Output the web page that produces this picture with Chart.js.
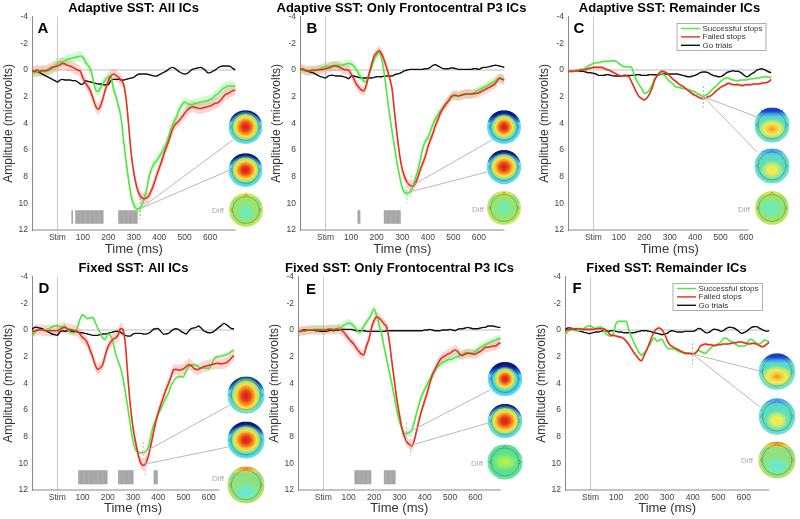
<!DOCTYPE html>
<html>
<head>
<meta charset="utf-8">
<title>SST ERP panels</title>
<script src="https://cdn.jsdelivr.net/npm/chart.js@4"></script>
<style>
  html, body { margin: 0; padding: 0; background: #fff; }
  #page { position: relative; width: 800px; height: 519px; overflow: hidden; }
  canvas { position: absolute; filter: blur(0.4px); }
</style>
</head>
<body>
<div id="page"></div>
<script>
// time base, ms, one value every 10 ms from -100 to 700
const times = [];
for (let t = -100; t <= 700; t += 10) times.push(t);

const xTickValues = [0, 100, 200, 300, 400, 500, 600];
const seriesLabels = ['Successful stops', 'Failed stops', 'Go trials'];

const adaptiveAllGreen = [.2,.2,.15,.1,.1,.1,.1,0,-.1,-.3, -.5,-.6,-.6,-.7,-.8,-.85,-.9,-.95,-1,-1.05, -.95,-.6,-.35,-.05,.7,1.5,1.6,1.3,1,.7, .5,.5,1.4,2,2.7,3.6,5.3,6.9,8.3,9.5, 10.1,10.4,10.4,10.2,9.7,9,8,7.4,7,6.8, 6.5,6.2,5.8,5.4,4.8,4.2,3.8,3.4,2.9,2.6, 2.4,2.5,2.6,2.6,2.5,2.5,2.4,2.4,2.3,2.3, 2.2,2.1,1.9,1.8,1.6,1.4,1.3,1.2,1.2,1.2,1.2];
const adaptiveAllRed = [.1,.1,0,.1,.05,.05,0,-.1,-.2,-.25, -.3,-.4,-.5,-.45,-.35,-.3,-.2,-.1,0,.1, .6,.95,1.25,1.6,2.15,2.7,2.95,2.65,2.05,1.35, .8,.45,.3,.4,.55,.75,1.05,2.2,4.2,6.3, 7.7,8.65,9.25,9.55,9.65,9.6,9.4,9,8.5,7.9, 7.35,6.8,6.2,5.7,5.15,4.55,4.15,3.95,3.75,3.5, 3.25,3,2.85,2.75,2.8,2.85,2.9,2.85,2.8,2.75, 2.7,2.6,2.5,2.45,2.3,2.05,1.85,1.75,1.65,1.55,1.5];
const adaptiveAllBlack = [.1,.1,.15,.2,.3,.4,.5,.6,.7,.8, .9,.75,.7,.75,.75,.75,.8,.8,.9,1.05, 1.05,.8,.85,.9,.95,1,1.05,1.05,1.1,1.1, 1.1,.8,.7,.7,.7,.75,.75,.7,.65,.6, .55,.4,.3,.3,.3,.3,.35,.4,.45,.45, .35,.25,.15,.05,-.1,-.2,-.15,0,.15,.25, .3,.25,.1,-.05,-.1,-.15,-.2,-.15,0,.2, .2,.1,0,-.15,-.25,-.3,-.3,-.3,-.25,-.1,0];

const adaptiveP3Green = [-.1,0,.05,.05,.05,.05,.05,-.05,-.1,-.2, -.25,-.3,-.3,-.35,-.35,-.35,-.35,-.4,-.45,-.5, -.45,-.3,-.05,.3,.55,.85,.85,.3,-.2,-.8, -1.15,-1.4,-.8,.3,1.85,3.3,4.6,5.8,7,8, 8.85,9.2,9.25,9.15,8.8,8.2,7.6,6.8,5.9,5.35, 5.1,4.6,4.05,3.65,3.35,3.05,2.85,2.6,2.3,2.05, 1.95,1.9,1.95,1.85,1.8,1.8,1.8,1.8,1.8,1.6, 1.5,1.4,1.3,1.2,1.1,1,.85,.7,.6,.65,.7];
const adaptiveP3Red = [-.05,-.1,0,.05,.05,0,0,0,-.05,-.05, -.1,-.15,-.2,-.3,-.3,-.25,-.15,-.05,0,0, .3,.65,1.05,1.3,1.5,1.55,1.1,.3,-.4,-1.05, -1.3,-1.45,-1.2,-.7,-.1,.55,1.4,3.2,4.9,6.4, 7.45,8.05,8.45,8.65,8.7,8.55,8.1,7.5,7,6.5, 5.8,5.25,4.75,4.15,3.7,3.2,2.85,2.55,2.35,2.05, 1.9,1.9,1.95,1.9,1.85,1.8,1.8,1.8,1.75,1.75, 1.7,1.6,1.5,1.4,1.3,1.2,1.1,.85,.6,.7,.75];
const adaptiveP3Black = [-.1,0,.05,.1,.15,.2,.3,.4,.5,.55, .6,.45,.4,.4,.45,.45,.45,.5,.55,.65, .45,.45,.5,.55,.6,.6,.6,.6,.6,.55, .5,.5,.5,.45,.45,.45,.45,.35,.3,.25, .15,.05,0,-.05,-.05,-.05,-.05,-.05,-.05,-.1, -.1,-.2,-.35,-.4,-.3,-.2,-.1,-.1,-.1,-.15, -.15,-.1,-.05,-.05,-.05,-.05,-.05,-.05,-.1,-.1, -.05,-.15,-.2,-.2,-.25,-.3,-.35,-.35,-.3,-.25,-.2];

const adaptiveRestGreen = [.05,.05,.05,.05,0,-.05,-.05,-.15,-.3,-.4, -.5,-.55,-.55,-.6,-.65,-.65,-.65,-.7,-.7,-.65, -.5,-.35,-.25,-.25,-.25,-.2,.35,.8,1.1,1.4, 1.75,1.7,1.5,1.15,.65,.45,.3,.3,.4,.65, .85,1,1.2,1.3,1.3,1.4,1.4,1.45,1.5,1.6, 1.65,1.8,1.85,2,1.9,1.8,1.6,1.4,1.25,1.05, .85,.7,.6,.6,.7,.75,.8,.8,.75,.75, .75,.7,.65,.65,.6,.6,.55,.5,.5,.55,.55];
const adaptiveRestRed = [.1,.1,.1,.05,.05,0,0,-.05,-.1,-.15, -.2,-.2,-.2,-.2,-.15,-.05,0,.1,.2,.3, .4,.45,.45,.45,.5,.9,1.3,1.7,2,2.15, 2.25,2.1,1.8,1.4,.8,.45,.2,.1,.15,.25, .45,.65,.8,.95,1.1,1.2,1.35,1.5,1.65,1.8, 1.9,2,2.1,2.15,2.1,2,1.95,1.8,1.6,1.45, 1.3,1.2,1.1,1,1.05,1.1,1.1,1.1,1.15,1.15, 1.1,1.1,1.1,1.05,1.05,1.05,1,.95,.95,.85,.7];
const adaptiveRestBlack = [.05,.05,.05,.05,.05,.1,.1,.15,.2,.2, .25,.3,.4,.4,.4,.35,.35,.4,.45,.45, .45,.45,.4,.4,.4,.4,.4,.35,.35,.4, .4,.4,.35,.35,.35,.35,.35,.3,.3,.3, .3,.3,.3,.3,.35,.4,.45,.5,.5,.45, .4,.3,.2,.15,.15,.2,.3,.4,.45,.5, .5,.4,.25,.15,.1,.05,.1,.1,.2,.35, .5,.45,.3,.2,.05,-.05,-.1,-.05,.05,.15,.2];

const fixedAllGreen = [.5,.2,.05,0,0,0,-.05,-.1,-.25,-.3, -.35,-.25,-.25,-.3,-.1,.15,.2,.2,-.2,-.8, -1.15,-1,-.85,-.9,-.95,-.6,-.15,.2,.6,.7, .3,.4,.85,1.7,2.3,2.8,3.6,4.7,5.9,7.2, 8.3,9,9.15,9.2,9.2,9.1,8.85,8,7.2,6.75, 6.3,5.95,5.5,5.1,4.75,4.2,3.85,3.6,3.5,3.5, 3.5,3.1,2.75,2.65,2.6,2.65,2.75,2.85,2.85,2.85, 2.9,2.6,2.2,2,2,1.95,1.9,1.85,1.75,1.6,1.5];
const fixedAllRed = [.1,.1,0,0,0,.05,.05,.05,.05,.05, .05,-.05,-.15,-.2,-.1,-.05,0,.05,.1,.3, .55,.7,1,1.5,2,2.6,2.95,2.85,2.6,1.9, 1.3,.95,.7,.6,.4,-.1,-.05,1.1,3.6,5.75, 7.3,8.4,9.3,9.95,10.15,10,9.5,8.7,7.8,6.9, 6.2,5.6,5.05,4.5,4.05,3.55,3,2.95,3,3, 2.9,2.75,2.6,2.65,2.85,2.95,2.95,2.85,2.75,2.7, 2.65,2.6,2.55,2.5,2.5,2.55,2.5,2.45,2.3,2.1,1.9];
const fixedAllBlack = [-.05,-.2,-.2,-.15,-.1,0,.1,.2,.3,.35, .4,.15,.05,.1,.05,.05,.1,.1,.15,.2, .2,.25,.3,.35,.4,.4,.4,.35,.3,.3, .25,.2,.15,.1,.1,.15,.3,.4,.45,.45, .3,.25,.25,.25,.3,.3,.25,.15,-.05,-.1, -.1,.1,.3,.3,.25,.1,-.05,-.1,-.05,.1, .2,.3,.1,-.1,-.15,-.2,-.3,-.15,.05,.15, .2,.2,.1,-.05,-.2,-.35,-.5,-.4,-.25,-.1,-.1];

const fixedP3Green = [.05,.05,.05,.05,0,0,-.05,-.05,-.05,-.05, -.05,-.05,-.05,-.1,-.1,-.1,-.15,-.2,-.35,-.45, -.55,-.45,-.3,-.05,.15,.1,-.3,-.6,-.85,-1.2, -1.6,-1.1,-.4,.3,1.3,2.2,3.1,4,5,6, 6.8,7.4,7.75,7.75,7.7,7.5,6.8,6.1,5.4,4.85, 4.45,4.05,3.7,3.3,3,2.75,2.6,2.45,2.35,2.25, 2.2,2.15,2.05,2,1.9,1.8,1.7,1.7,1.75,1.7, 1.6,1.45,1.3,1.2,1.1,1,.9,.8,.75,.65,.6];
const fixedP3Red = [.1,.1,.05,.05,0,0,0,0,0,0, 0,0,-.05,-.05,0,-.05,-.05,0,.15,.4, .65,.85,1.05,1.35,1.6,1.8,1.85,1.2,.7,-.15, -.7,-1,-.9,-.7,-.45,-.25,.8,2.3,3.75,5.2, 6.3,7.35,8,8.4,8.6,8.7,8.2,7.4,6.6,5.9, 5.3,4.7,4,3.4,3,2.6,2.25,2.05,1.95,1.8, 1.75,1.6,1.5,1.6,1.85,1.9,1.8,1.75,1.75,1.8, 1.8,1.7,1.6,1.45,1.3,1.3,1.25,1.2,1.2,1.05,.95];
const fixedP3Black = [.05,.05,0,0,0,0,0,.05,.05,.1, .1,.1,.05,0,.05,0,0,-.05,-.05,-.05, -.05,-.05,0,.05,.05,.05,.05,.1,.1,.1, .1,.1,.1,.1,.1,.05,.05,.05,.05,.05, .05,.05,.05,.05,.05,.05,.05,.05,.05,.05, 0,0,-.05,0,.05,.05,.05,0,0,0, -.05,0,.05,-.05,-.1,-.1,-.15,-.2,-.15,-.1, -.1,-.1,-.15,-.2,-.2,-.3,-.3,-.3,-.25,-.2,-.2];

const fixedRestGreen = [.35,.15,-.05,0,.05,.05,0,-.05,-.2,-.3, -.3,-.2,-.1,-.2,-.25,-.05,.3,.4,.45,.2, -.5,-.65,-.65,-.65,-.65,0,.5,.95,1.35,1.7, 1.9,1.7,1.45,1.15,.8,.6,.85,.75,.7,1.05, 1.35,1.4,1.4,1.45,1.55,1.65,1.7,1.7,1.75,1.8, 1.8,1.7,1.55,1.6,1.7,1.75,1.55,1.35,1.2,1.15, 1.05,.9,.65,.6,.75,.85,.95,1.1,1.2,1.2, 1.2,1.15,.75,.7,.85,1,1.05,.95,.75,.8,.9];
const fixedRestRed = [.05,0,-.05,-.1,-.1,-.1,-.1,-.05,-.05,-.05, -.05,-.05,-.1,-.1,-.1,-.1,0,.2,.4,.4, .45,.5,.55,.65,.85,1.1,1.4,1.7,1.95,2.2, 2.3,1.9,1.5,1,.5,.1,-.1,-.15,0,.3, .8,1.1,1.25,1.35,1.45,1.55,1.65,1.75,1.75,1.75, 1.8,1.75,1.5,1.2,1.1,1.05,1.1,1.1,1.15,1.15, 1.1,1.1,1.05,1.05,1.05,1,.95,.95,.9,.9, .95,1,1.05,1,1,1.05,1.15,1.25,1.2,1.05,.9];
const fixedRestBlack = [0,-.15,-.15,-.1,-.05,.05,.1,.15,.2,.25, .25,.2,.15,.15,.1,.05,.05,.1,.05,.05, .1,.15,.15,.2,.2,.2,.2,.2,.15,.1, .05,.05,.05,.1,.15,.2,.25,.3,.35,.3, .25,.1,.05,.1,.15,.15,.15,.1,.1,.1, .1,.05,-.1,-.1,.05,.2,.2,.1,-.05,-.05, 0,.1,.05,-.1,-.2,-.2,-.15,-.05,.1,.25, .2,.1,-.05,-.2,-.25,-.25,-.15,-.05,.05,.1,.05];

// significant stretches, ms
const adaptiveAllSig = [[58, 61], [73, 178], [242, 314]];
const adaptiveP3Sig = [[128, 137], [231, 292]];
const fixedAllSig = [[86, 199], [244, 299], [385, 399]];
const fixedP3Sig = [[126, 189], [242, 284]];

const GREEN = '#4fe83f', RED = '#e8301f', BLACK = '#111';
const GREEN_BAND = 'rgba(110,235,120,0.28)', RED_BAND = 'rgba(240,110,100,0.28)';

// scalp map colour sets
const strong = { base: '#3cc6ea', cap: '#0a1488', capMid: '#1f5fe6', capH: .8, rim: '#66e4f2', hot: [['#c8200f', 0], ['#e8401a', .25], ['#f98a20', .42], ['#f8e048', .6], ['#90e880', .78], ['rgba(70,210,225,0)', 1]] };
const midMap = { base: '#58dcc8', cap: '#1a3cd8', capMid: '#40a0ea', capH: .55, rim: '#70e4e0', hot: [['#f2902c', 0], ['#f6c43c', .25], ['#f0ec58', .5], ['#a8e880', .75], ['rgba(100,220,180,0)', 1]] };
const softMap = { base: '#5cdcc0', cap: '#4aa8ee', capMid: '#5cc8ea', capH: .45, rim: '#70e4e0', hot: [['#f4e838', 0], ['#eef058', .3], ['#a8e880', .65], ['rgba(100,220,190,0)', 1]] };
const diffMap = { base: '#98e470', cap: '#d8e448', capMid: '#b8e450', capH: .35, rim: '#d4e850', hot: [['#66ecc0', 0], ['#78e8a8', .5], ['rgba(150,225,110,0)', 1]] };
const diffWarm = { base: '#90e080', cap: '#f2a030', capMid: '#e8d848', capH: .35, rim: '#c4e458', hot: [['#5ce8e0', 0], ['#78e8b0', .5], ['rgba(150,225,110,0)', 1]] };
const diffCool = { base: '#58e098', cap: '#66dc9c', capMid: '#60dc98', capH: .3, rim: '#74e4a8', hot: [['#c4f040', 0], ['#90ec68', .5], ['rgba(90,225,150,0)', 1]] };

// heads: page x, page y, radius, colours, hot spot dx, dy, radius, width/height stretch
const panels = [
  { title: 'Adaptive SST: All ICs', letter: 'A', left: 0, top: 0, h: 260, w: 203.6, axisEnd: 700, series: [adaptiveAllGreen, adaptiveAllRed, adaptiveAllBlack], band: [.38, .42], sig: adaptiveAllSig, sigY: [10.55, 11.5],
    letterAt: [43, 29], diffAt: [218, 211], links: [[325, 10.4, 233, 140], [325, 10.4, 230, 170]],
    heads: [[245.5, 127, 16.8, strong, 0, 0, 16, 1], [245.5, 170, 16.8, strong, 0, 0, 15, 1.1], [246, 210, 16.8, diffMap, 0, 2, 12, .9]] },
  { title: 'Adaptive SST: Only Frontocentral P3 ICs', letter: 'B', left: 268, top: 0, h: 260, w: 204.5, axisEnd: 700, series: [adaptiveP3Green, adaptiveP3Red, adaptiveP3Black], band: [.32, .36], sig: adaptiveP3Sig, sigY: [10.55, 11.5],
    letterAt: [312, 29], diffAt: [478, 210], links: [[335, 8.7, 492, 140], [318, 9.2, 487, 172]],
    heads: [[504, 127, 16.8, strong, 0, 0, 14, 1], [504, 167, 17, strong, 0, 0, 15, 1.1], [504, 208, 16.8, diffMap, 0, 0, 10, 1]] },
  { title: 'Adaptive SST: Remainder ICs', letter: 'C', left: 536, top: 0, h: 260, w: 203.5, axisEnd: 610, series: [adaptiveRestGreen, adaptiveRestRed, adaptiveRestBlack], band: [.07, .1], sig: [], sigY: [10.55, 11.5],
    letterAt: [579, 29], diffAt: [744, 210], links: [[432, 2, 757, 117], [432, 2, 757, 152]], legendAt: [677, 23.5, 89, 27],
    heads: [[772, 125, 17.5, midMap, 0, 4, 11, 1.4], [772, 166, 17.5, softMap, 0, 4, 11, 1.2], [772, 208, 16.8, diffMap, -1, 0, 12, 1.3]] },
  { title: 'Fixed SST: All ICs', letter: 'D', left: 0, top: 260, h: 259, w: 202, axisEnd: 642, series: [fixedAllGreen, fixedAllRed, fixedAllBlack], band: [.1, .42], sig: fixedAllSig, sigY: [10.55, 11.55],
    letterAt: [44, 289], diffAt: [218, 479], links: [[340, 9.2, 230, 405], [349, 10.05, 228, 447]],
    heads: [[246, 395, 18.5, strong, 0, 1, 20, .85], [246, 440, 18.5, strong, 0, 0, 16, 1.1], [246, 485, 18.5, diffWarm, 0, 7, 12, 1.4]] },
  { title: 'Fixed SST: Only Frontocentral P3 ICs', letter: 'E', left: 266, top: 260, h: 259, w: 202.7, axisEnd: 700, series: [fixedP3Green, fixedP3Red, fixedP3Black], band: [.3, .36], sig: fixedP3Sig, sigY: [10.55, 11.55],
    letterAt: [311, 290], diffAt: [477, 464], links: [[328, 7.75, 490, 390], [345, 8.65, 488, 423]],
    heads: [[505, 379, 17, strong, 0, 0, 13, 1], [505, 421, 17, strong, 0, 0, 16, 1.1], [505, 462, 17.5, diffCool, 0, 0, 11, 1.4]] },
  { title: 'Fixed SST: Remainder ICs', letter: 'F', left: 533, top: 260, h: 259, w: 204.4, axisEnd: 700, series: [fixedRestGreen, fixedRestRed, fixedRestBlack], band: [.07, .1], sig: [], sigY: [10.55, 11.55],
    letterAt: [577, 289], diffAt: [747, 461], links: [[399, 1.8, 760, 371], [399, 1.8, 760, 407]], legendAt: [673, 283.5, 89.5, 27],
    heads: [[777, 371.5, 18.2, midMap, 0, 5, 12, 1.5], [777, 416.5, 18.2, softMap, 0, 4, 11, 1.2], [777, 460, 18.5, diffWarm, 0, 6, 12, 1.4]] }
];

const CANVAS_W = 267, PLOT_LEFT = 32, PLOT_BOTTOM = 230;
const FONT = '"Liberation Sans", Arial, sans-serif';

function drawHead(ctx, h) {
  const [x, y, r, map, dx, dy, hr, stretch] = h;
  ctx.save();
  ctx.beginPath();
  ctx.arc(x, y, r, 0, Math.PI * 2);
  ctx.clip();
  ctx.fillStyle = map.base;
  ctx.fillRect(x - r, y - r, r * 2, r * 2);

  const cap = ctx.createLinearGradient(0, y - r, 0, y - r + r * map.capH);
  cap.addColorStop(0, map.cap);
  cap.addColorStop(0.35, map.cap);
  cap.addColorStop(0.7, map.capMid);
  cap.addColorStop(1, map.capMid + '00');
  ctx.fillStyle = cap;
  ctx.fillRect(x - r, y - r, r * 2, r * map.capH);

  ctx.save();
  ctx.translate(x + dx, y + dy);
  ctx.scale(stretch, 1);
  const hot = ctx.createRadialGradient(0, 0, 0, 0, 0, hr);
  map.hot.forEach(s => hot.addColorStop(s[1], s[0]));
  ctx.fillStyle = hot;
  ctx.fillRect(-r * 3, -r * 3, r * 6, r * 6);
  ctx.restore();

  const rim = ctx.createRadialGradient(x, y, r * 0.8, x, y, r);
  rim.addColorStop(0, map.rim + '00');
  rim.addColorStop(1, map.rim);
  ctx.fillStyle = rim;
  ctx.beginPath();
  ctx.rect(x - r, y - r * 0.3, r * 2, r * 1.3);
  ctx.fill();
  ctx.restore();

  // head outline, nose and ears
  ctx.strokeStyle = 'rgba(60,70,70,0.5)';
  ctx.lineWidth = 0.7;
  ctx.beginPath();
  ctx.arc(x, y, r * 0.8, 0, Math.PI * 2);
  ctx.moveTo(x - r * 0.13, y - r * 0.79);
  ctx.lineTo(x, y - r * 0.95);
  ctx.lineTo(x + r * 0.13, y - r * 0.79);
  ctx.moveTo(x - r * 0.8, y - r * 0.12);
  ctx.lineTo(x - r * 0.9, y);
  ctx.lineTo(x - r * 0.8, y + r * 0.12);
  ctx.moveTo(x + r * 0.8, y - r * 0.12);
  ctx.lineTo(x + r * 0.9, y);
  ctx.lineTo(x + r * 0.8, y + r * 0.12);
  ctx.stroke();
}

// everything the figure has on top of the lines
const panelExtras = {
  id: 'panelExtras',
  afterLayout(chart) {
    // centre the title on the whole cell, not on the padded part of it
    chart.titleBlock.left = 0;
    chart.titleBlock.right = chart.width;
  },
  afterDraw(chart, args, opts) {
    const p = opts.panel, ctx = chart.ctx, xs = chart.scales.x, ys = chart.scales.y;
    ctx.save();

    // x axis line stops where the original one stops
    ctx.strokeStyle = '#8a8a8a';
    ctx.lineWidth = 1;
    ctx.beginPath();
    ctx.moveTo(xs.left, ys.bottom);
    ctx.lineTo(xs.getPixelForValue(p.axisEnd), ys.bottom);
    ctx.stroke();

    p.links.forEach(l => {
      const px = xs.getPixelForValue(l[0]), py = ys.getPixelForValue(l[1]);
      ctx.strokeStyle = '#b8b8b8';
      ctx.lineWidth = 1;
      ctx.setLineDash([]);
      ctx.beginPath();
      ctx.moveTo(px, py);
      ctx.lineTo(l[2] - p.left, l[3] - p.top);
      ctx.stroke();
      ctx.strokeStyle = '#bbb';
      ctx.setLineDash([2, 2]);
      ctx.beginPath();
      ctx.moveTo(px, ys.getPixelForValue(l[1] - 0.8));
      ctx.lineTo(px, ys.getPixelForValue(l[1] + 0.8));
      ctx.stroke();
      ctx.setLineDash([]);
    });

    p.heads.forEach(h => {
      const shifted = h.slice();
      shifted[0] = h[0] - p.left;
      shifted[1] = h[1] - p.top;
      drawHead(ctx, shifted);
    });

    ctx.textBaseline = 'middle';
    ctx.textAlign = 'center';
    ctx.fillStyle = '#000';
    ctx.font = 'bold 15px ' + FONT;
    ctx.fillText(p.letter, p.letterAt[0] - p.left, p.letterAt[1] - p.top);
    ctx.fillStyle = '#aaa';
    ctx.font = '8px ' + FONT;
    ctx.fillText('Diff', p.diffAt[0] - p.left, p.diffAt[1] - p.top);

    if (p.legendAt) {
      const [lx, ly, lw, lh] = p.legendAt;
      const bx = lx - p.left, by = ly - p.top;
      ctx.fillStyle = '#fff';
      ctx.fillRect(bx, by, lw, lh);
      ctx.strokeStyle = '#999';
      ctx.lineWidth = 0.8;
      ctx.strokeRect(bx, by, lw, lh);
      ctx.textAlign = 'left';
      ctx.font = '8px ' + FONT;
      seriesLabels.forEach((label, i) => {
        const rowY = by + 5 + i * 8.4;
        ctx.strokeStyle = [GREEN, RED, BLACK][i];
        ctx.lineWidth = 1.4;
        ctx.beginPath();
        ctx.moveTo(bx + 4, rowY);
        ctx.lineTo(bx + 23, rowY);
        ctx.stroke();
        ctx.fillStyle = '#333';
        ctx.fillText(label, bx + 25.5, rowY);
      });
    }
    ctx.restore();
  }
};

function sigBars(ranges, sigY) {
  const bars = [];
  ranges.forEach(r => {
    for (let t = r[0]; t <= r[1]; t += 5) bars.push({ x: t, y: sigY });
  });
  return bars;
}

function lineSet(label, values, color, width, order) {
  return { label: label, data: values, borderColor: color, borderWidth: width, pointRadius: 0, tension: 0.25, fill: false, order: order };
}

function bandSets(values, halfWidth, color, order) {
  const common = { borderWidth: 0, pointRadius: 0, tension: 0.25, backgroundColor: color, order: order };
  return [
    Object.assign({ data: values.map(v => v - halfWidth), fill: false }, common),
    Object.assign({ data: values.map(v => v + halfWidth), fill: '-1' }, common)
  ];
}

panels.forEach(p => {
  const canvas = document.createElement('canvas');
  canvas.width = CANVAS_W;
  canvas.height = p.h;
  canvas.style.left = p.left + 'px';
  canvas.style.top = p.top + 'px';
  document.getElementById('page').appendChild(canvas);

  const datasets = [
    lineSet(seriesLabels[1], p.series[1], RED, 1.6, 1),
    lineSet(seriesLabels[0], p.series[0], GREEN, 1.6, 2),
    lineSet(seriesLabels[2], p.series[2], BLACK, 1.4, 3)
  ].concat(
    bandSets(p.series[1], p.band[1], RED_BAND, 4),
    bandSets(p.series[0], p.band[0], GREEN_BAND, 5)
  );
  if (p.sig.length) {
    datasets.push({ type: 'bar', data: sigBars(p.sig, p.sigY), backgroundColor: '#a6a6a6', barThickness: 1, order: 6 });
  }

  new Chart(canvas, {
    type: 'line',
    data: { labels: times, datasets: datasets },
    options: {
      responsive: false,
      animation: false,
      events: [],
      layout: { padding: { right: CANVAS_W - PLOT_LEFT - p.w } },
      plugins: {
        legend: { display: false },
        tooltip: { enabled: false },
        title: {
          display: true,
          text: p.title,
          color: '#000',
          font: { family: FONT, size: 13, weight: 'bold' },
          padding: { top: 1, bottom: 0.1 }
        },
        panelExtras: { panel: p }
      },
      scales: {
        x: {
          type: 'linear',
          min: -100,
          max: 700,
          offset: false,
          afterBuildTicks: s => { s.ticks = xTickValues.map(v => ({ value: v })); },
          afterFit: s => { s.height = p.h - PLOT_BOTTOM; },
          border: { display: false },
          grid: {
            offset: false,
            drawTicks: false,
            color: c => (c.tick && c.tick.value === 0 ? '#c8c8c8' : 'transparent')
          },
          ticks: {
            autoSkip: false,
            maxRotation: 0,
            padding: 3,
            color: '#444',
            font: { family: FONT, size: 8.5 },
            callback: v => (v === 0 ? 'Stim' : String(v))
          },
          title: {
            display: true,
            text: 'Time (ms)',
            color: '#333',
            font: { family: FONT, size: 13 },
            padding: { top: 0, bottom: 3 }
          }
        },
        y: {
          min: -4,
          max: 12,
          reverse: true,
          afterFit: s => { s.width = PLOT_LEFT; },
          border: { color: '#8a8a8a', width: 1 },
          grid: {
            drawTicks: false,
            lineWidth: c => (c.tick && c.tick.value === 0 ? 2 : 1),
            color: c => (c.tick && c.tick.value === 0 ? '#dedede' : 'transparent')
          },
          ticks: {
            stepSize: 2,
            padding: 4,
            color: '#444',
            font: { family: FONT, size: 8.5 }
          },
          title: {
            display: true,
            text: 'Amplitude (microvolts)',
            color: '#333',
            font: { family: FONT, size: 12 },
            padding: { top: 1, bottom: 0 }
          }
        }
      }
    },
    plugins: [panelExtras]
  });
});
</script>
</body>
</html>
